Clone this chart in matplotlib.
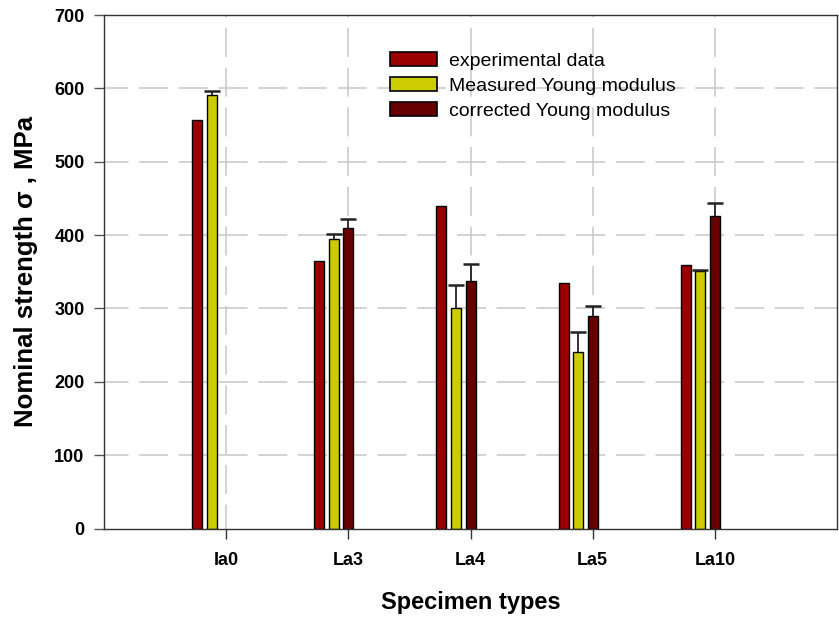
import matplotlib
matplotlib.use("Agg")
import matplotlib.pyplot as plt
import numpy as np

plt.rcParams['font.family'] = ['Liberation Sans', 'DejaVu Sans']

categories = ["Ia0", "La3", "La4", "La5", "La10"]
experimental = [557, 365, 440, 335, 359]
measured = [591, 394, 301, 240, 351]
measured_err = [5, 7, 31, 28, 2]
corrected = [0, 410, 338, 290, 426]
corrected_err = [0, 12, 23, 14, 18]

fig = plt.figure(figsize=(8.39, 6.18), dpi=100)
ax = fig.add_axes([0.124, 0.1448, 0.8736, 0.8309])

x = np.arange(1, len(categories) + 1)
w = 0.082
step = 0.119

c_red = "#9b0000"
c_yel = "#cccc00"
c_dark = "#660000"

def up_err(xs, vals, errs):
    xs = np.asarray(xs, float)
    vals = np.asarray(vals, float)
    errs = np.asarray(errs, float)
    ax.vlines(xs, vals, vals + errs, color="#222222", linewidth=1.3, zorder=4)
    ax.plot(xs, vals + errs, linestyle="none", marker="_", markersize=11,
            markeredgewidth=1.8, color="#222222", zorder=4)

ax.bar(x - 2 * step, experimental, w, color=c_red, edgecolor="black", linewidth=1,
       label="experimental data", zorder=3)
ax.bar(x - step, measured, w, color=c_yel, edgecolor="black", linewidth=1,
       label="Measured Young modulus", zorder=3)
up_err(x - step, measured, measured_err)
cx = x[1:]
ax.bar(cx, corrected[1:], w, color=c_dark, edgecolor="black", linewidth=1,
       label="corrected Young modulus", zorder=3)
up_err(cx, corrected[1:], corrected_err[1:])

ax.set_xlim(0, 6)
ax.set_ylim(0, 700)
ax.set_xticks(x)
ax.set_xticklabels(categories, fontsize=13, fontweight="bold")
ax.set_yticks(np.arange(0, 701, 100))
ax.set_yticklabels([str(v) for v in range(0, 701, 100)], fontsize=13, fontweight="bold")
ax.tick_params(axis="y", direction="out", length=7, width=1, color="#555555", pad=7)
ax.tick_params(axis="x", direction="out", length=7, width=1, color="#333333", pad=10)

ax.grid(True, color="#c8c8c8", linestyle=(3, (19, 7)), linewidth=1.1, zorder=0)
ax.set_axisbelow(True)
ygl = ax.get_ygridlines()
ygl[0].set_visible(False)
ygl[-1].set_visible(False)
for s in ax.spines.values():
    s.set_color("#333333")
    s.set_linewidth(1)
    s.set_zorder(5)

ax.set_ylabel("Nominal strength σ , MPa", fontsize=18.5, fontweight="bold", labelpad=12)
ax.set_xlabel("Specimen types", fontsize=17, fontweight="bold", labelpad=16)

leg = ax.legend(loc="upper left", bbox_to_anchor=(0.38, 0.943), frameon=False,
                fontsize=14, handlelength=2.4, handleheight=0.75, labelspacing=0.36,
                handletextpad=0.6, borderaxespad=0)
for p in leg.get_patches():
    p.set_linewidth(1.2)

fig.savefig("out.png", dpi=100)
